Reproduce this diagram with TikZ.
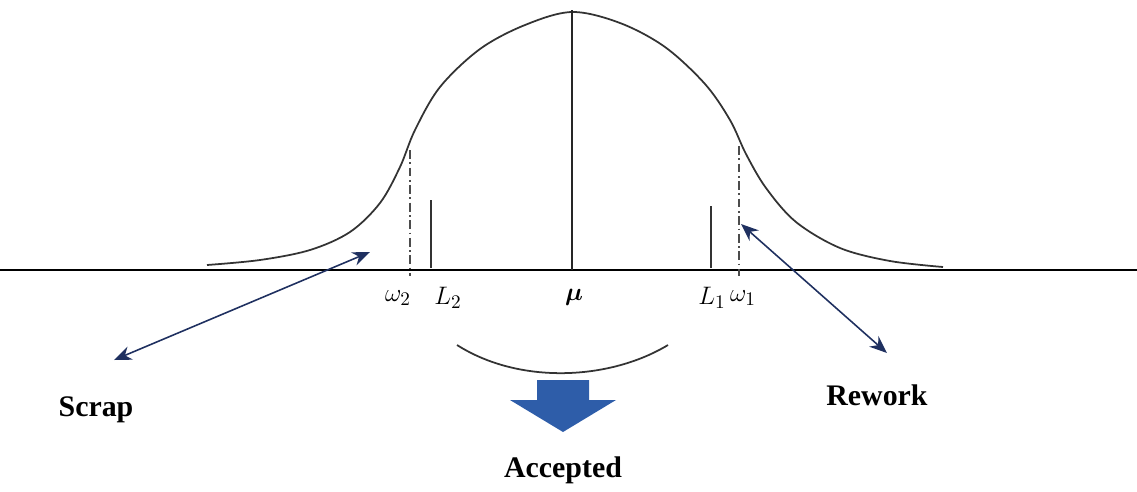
\documentclass[tikz,border=0pt]{standalone}
\usepackage{amsmath}
\usepackage{fontspec}
\setmainfont{Liberation Serif}
\usetikzlibrary{arrows.meta}
\definecolor{navy}{HTML}{1F3060}
\definecolor{accblue}{HTML}{2E5DA9}
\tikzset{
  lbl/.style={font=\fontsize{17}{19}\selectfont\bfseries, text=black},
  mlbl/.style={font=\fontsize{15.5}{17}\selectfont, inner sep=1pt},
  curve/.style={line width=1pt, black!80},
  limit/.style={line width=1.6pt, black!80},
  dd/.style={line width=0.7pt, black!70, dash pattern=on 5pt off 2pt on 1pt off 2pt},
  navyarrow/.style={line width=0.9pt, navy, {Stealth[length=10pt,width=8pt]}-{Stealth[length=10pt,width=8pt]}}
}
\begin{document}
\begin{tikzpicture}[x=0.02cm,y=-0.02cm]
\useasboundingbox (0,0) rectangle (1137,491);
% axis
\draw[line width=1pt] (0,270) -- (1137,270);
% bell curve
\draw[curve] plot[smooth, tension=0.55] coordinates {
 (207,265) (260,260) (310,250) (350,232) (380,203) (400,167) (415,130)
 (440,87) (480,49) (525,25) (572,12) (620,23) (665,47) (705,84)
 (730,120) (746,154) (766,188) (796,222) (840,248) (890,261) (943,267)};
% mean line
\draw[line width=1.1pt, black!85] (572,10) -- (572,270);
% limits
\draw[limit] (431,200) -- (431,268);
\draw[limit] (711,206) -- (711,268);
% dash-dot
\draw[dd] (410,150) -- (410,276);
\draw[dd] (739,146) -- (739,276);
% labels
\node[mlbl] (w2) at (398,298) {$\omega_2$};
\node[mlbl] (l2) at (448,298) {$L_2$};
\node[mlbl] (mu) at (574,297) {$\boldsymbol{\mu}$};
\node[mlbl] (l1) at (712,298) {$L_1$};
\node[mlbl] (w1) at (743,298) {$\omega_1$};
% scrap / rework arrows
\coordinate (s1) at (370,252);
\coordinate (s2) at (114,360);
\draw[navyarrow] (s1) -- (s2);
\coordinate (r1) at (741,224);
\coordinate (r2) at (887,353);
\draw[navyarrow] (r1) -- (r2);
\node[lbl] (scrap) at (96,410) {Scrap};
\node[lbl] (rework) at (877,395) {Rework};
% accepted bracket
\draw[line width=1pt, black!80] (457,345) .. controls (520,385) and (610,380) .. (668,345);
% blue arrow
\fill[accblue] (537,380) -- (589,380) -- (589,400) -- (616,400) -- (563,432) -- (510,400) -- (537,400) -- cycle;
\node[lbl] (acc) at (563,470) {Accepted};
\end{tikzpicture}
\end{document}
